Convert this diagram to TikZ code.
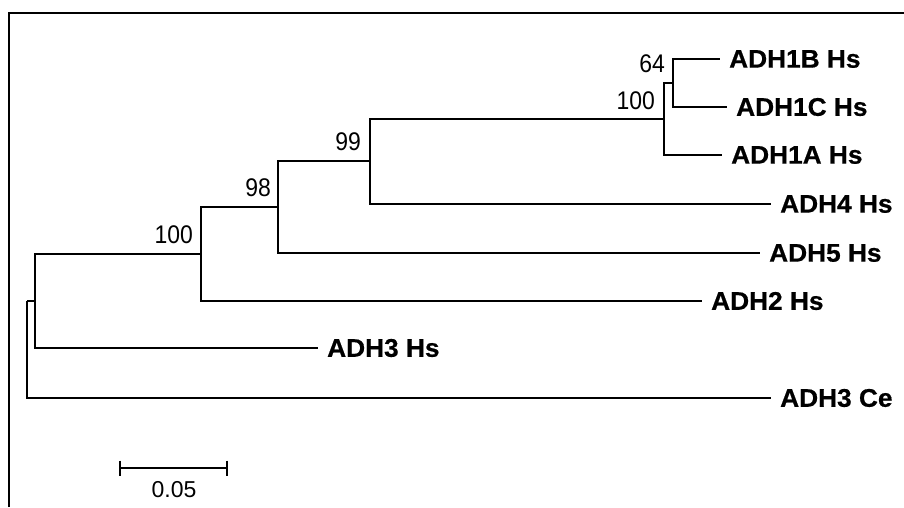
\documentclass[tikz,border=0pt]{standalone}
\usepackage{fontspec}
\setmainfont{Liberation Sans}
\newfontfamily\leaffont[FakeBold=0.6]{Liberation Sans Bold}
\usepackage{graphicx}
\tikzset{
  frameline/.style={line width=2pt, line cap=butt},
  branch/.style={line width=1.4pt, line join=miter},
  leaf/.style={anchor=west, inner xsep=9pt, inner ysep=0pt,
    font=\leaffont\fontsize{25.5}{25.5}\selectfont},
  boot/.style={anchor=base east, inner sep=0pt, font=\fontsize{25.5}{25.5}\selectfont},
  scalelabel/.style={inner sep=0pt, font=\fontsize{23}{23}\selectfont}
}
\newcommand{\wide}[1]{\scalebox{1.03}[1]{#1}}
\newcommand{\narrow}[1]{\scalebox{0.9}[1]{#1}}
\begin{document}
\begin{tikzpicture}[x=1pt,y=-1pt]
\useasboundingbox (0,0) rectangle (904,507);
% frame
\draw[frameline] (9,507) -- (9,13) -- (904,13);
% internal nodes
\coordinate (R) at (27,301);
\coordinate (A) at (35,301);
\coordinate (B) at (201,254);
\coordinate (C) at (278,207);
\coordinate (D) at (370,161);
\coordinate (E) at (664,119);
\coordinate (F) at (673,83);
% leaves
\node[leaf] (l1b) at (720,59)  {\wide{ADH1B Hs}};
\node[leaf] (l1c) at (727,107) {\wide{ADH1C Hs}};
\node[leaf] (l1a) at (722,155) {\wide{ADH1A Hs}};
\node[leaf] (l4)  at (771,204) {\wide{ADH4 Hs}};
\node[leaf] (l5)  at (760,253) {\wide{ADH5 Hs}};
\node[leaf] (l2)  at (702,301) {\wide{ADH2 Hs}};
\node[leaf] (l3)  at (318,348) {\wide{ADH3 Hs}};
\node[leaf] (lce) at (771,398) {\wide{ADH3 Ce}};
% branches
\draw[branch] (R) |- (A);
\draw[branch] (R) |- (lce.west);
\draw[branch] (A) |- (B);
\draw[branch] (A) |- (l3.west);
\draw[branch] (B) |- (C);
\draw[branch] (B) |- (l2.west);
\draw[branch] (C) |- (D);
\draw[branch] (C) |- (l5.west);
\draw[branch] (D) |- (E);
\draw[branch] (D) |- (l4.west);
\draw[branch] (E) |- (F);
\draw[branch] (E) |- (l1a.west);
\draw[branch] (F) |- (l1b.west);
\draw[branch] (F) |- (l1c.west);
% bootstrap values
\node[boot] (bB) at ([xshift=-8pt,yshift=11pt]B) {\narrow{100}};
\node[boot] (bC) at ([xshift=-7pt,yshift=11pt]C) {\narrow{98}};
\node[boot] (bD) at ([xshift=-9pt,yshift=11pt]D) {\narrow{99}};
\node[boot] (bE) at ([xshift=-9pt,yshift=10pt]E) {\narrow{100}};
\node[boot] (bF) at ([xshift=-8pt,yshift=11pt]F) {\narrow{64}};
% scale bar
\coordinate (sbL) at (120,468);
\coordinate (sbR) at (227,468);
\draw[branch] (sbL) -- (sbR);
\draw[branch] ([yshift=7.5pt]sbL) -- ([yshift=-7.5pt]sbL);
\draw[branch] ([yshift=7.5pt]sbR) -- ([yshift=-7.5pt]sbR);
\node[scalelabel] (sbt) at (174,490) {0.05};
\end{tikzpicture}
\end{document}
